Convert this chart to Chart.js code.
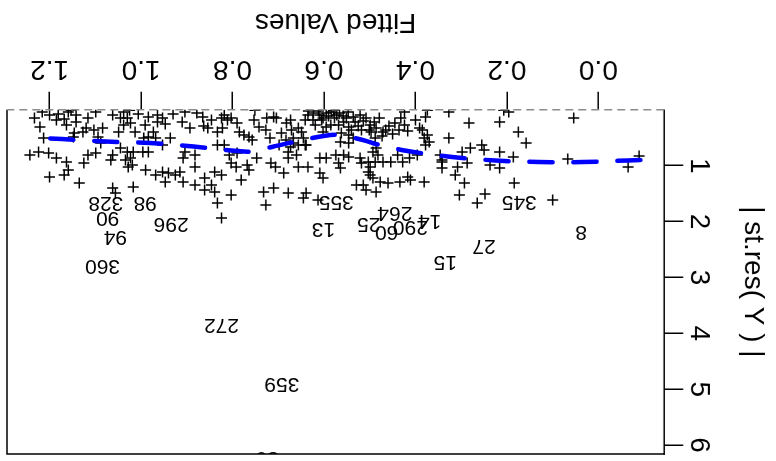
<!DOCTYPE html>
<html>
<head>
<meta charset="utf-8">
<script src="https://cdn.jsdelivr.net/npm/chart.js@4"></script>
<style>
  html, body { margin: 0; padding: 0; background: #fff; }
  /* the reference is a plot turned upside down */
  #wrap { width: 776px; height: 461px; transform: rotate(180deg); }
</style>
</head>
<body>
<div id="wrap"><canvas id="residChart" width="776" height="461"></canvas></div>
<script>
const fittedVals = [
  1.200, 1.185, 1.159, 1.142, 1.142, 1.116, 1.099, 1.062, 1.221, 1.163,
  1.120, 1.103, 1.084, 1.127, 1.213, 1.148, 1.146, 1.094, 1.088, 1.243,
  1.224, 1.202, 1.185, 1.163, 1.125, 1.116, 1.099, 1.062, 1.066, 1.159,
  1.200, 1.168, 1.135, 1.062, 1.056, 1.045, 1.030, 1.038, 1.023, 1.049,
  1.013, 0.984, 0.964, 0.964, 0.953, 0.910, 0.904, 0.893, 0.865, 0.846,
  0.824, 0.818, 0.854, 0.833, 0.822, 0.984, 0.973, 0.968, 0.994, 0.936,
  0.953, 1.045, 1.030, 1.017, 0.996, 0.984, 1.023, 1.034, 0.904, 0.882,
  0.908, 0.833, 0.818, 1.028, 1.019, 0.990, 0.968, 0.953, 0.940, 0.925,
  0.915, 0.947, 0.908, 0.882, 0.861, 0.839, 0.824, 0.882, 0.846, 0.861,
  0.839, 0.833, 1.017, 0.824, 0.811, 0.803, 0.790, 0.785, 0.775, 0.764,
  0.757, 0.753, 0.725, 0.710, 0.704, 0.727, 0.693, 0.682, 0.673, 0.671,
  0.667, 0.656, 0.641, 0.635, 0.624, 0.609, 0.602, 0.595, 0.585, 0.619,
  0.639, 0.602, 0.595, 0.807, 0.790, 0.803, 0.792, 0.768, 0.764, 0.747,
  0.716, 0.706, 0.688, 0.678, 0.678, 0.660, 0.656, 0.635, 0.609, 0.595,
  0.609, 0.602, 0.781, 0.803, 0.732, 0.710, 0.678, 0.645, 0.639, 0.613,
  0.727, 0.673, 0.667, 0.656, 0.645, 0.641, 0.572, 0.568, 0.557, 0.551,
  0.546, 0.562, 0.546, 0.536, 0.564, 0.546, 0.521, 0.508, 0.499, 0.497,
  0.488, 0.518, 0.486, 0.471, 0.465, 0.445, 0.424, 0.424, 0.400, 0.391,
  0.378, 0.374, 0.370, 0.385, 0.381, 0.378, 0.574, 0.568, 0.557, 0.564,
  0.546, 0.521, 0.518, 0.503, 0.499, 0.493, 0.486, 0.482, 0.488, 0.471,
  0.454, 0.439, 0.428, 0.413, 0.396, 0.503, 0.499, 0.493, 0.529, 0.514,
  0.508, 0.486, 0.477, 0.460, 0.434, 0.417, 0.411, 0.381, 0.342, 0.346,
  0.342, 0.327, 0.283, 0.216, 0.196, 0.175, 0.158, 0.327, 0.298, 0.280,
  0.255, 0.250, 0.216, 0.186, 0.342, 0.308, 0.287, 0.237, 0.216, 0.313,
  0.293, 0.184, 0.304, 0.265, 0.248, 0.100, 0.054, 0.067, -0.089, -0.065,
  1.153, 1.025, 0.751, 0.579, 0.374, 0.207, 0.634, 0.623, 0.612, 0.605,
  0.590, 0.584, 0.577, 0.566, 0.558, 0.547, 0.536, 0.532, 0.525, 0.540,
  0.514, 0.501, 0.490, 0.479, 0.473, 0.458, 0.450, 0.436, 0.432, 0.417,
  1.233, 1.216, 1.181, 1.168, 1.038, 1.006, 0.991, 0.947, 0.930, 0.878,
  0.863, 0.742, 0.718, 0.698, 0.683, 0.649
];
const absStdRes = [
  0.093, 0.183, 0.039, 0.093, 0.218, 0.147, 0.039, 0.093, 0.308, 0.272,
  0.326, 0.362, 0.326, 0.397, 0.505, 0.487, 0.415, 0.487, 0.594, 0.809,
  0.755, 0.773, 0.863, 0.934, 0.952, 0.809, 0.773, 0.809, 0.899, 1.078,
  1.203, 1.167, 1.310, 1.400, 1.489, 0.147, 0.147, 0.272, 0.236, 0.397,
  0.397, 0.129, 0.093, 0.218, 0.147, 0.218, 0.039, 0.326, 0.129, 0.183,
  0.147, 0.093, 0.326, 0.397, 0.326, 0.487, 0.397, 0.505, 0.505, 0.505,
  0.630, 0.684, 0.755, 0.755, 0.755, 0.755, 0.863, 0.899, 0.755, 0.809,
  0.863, 0.630, 0.630, 1.024, 0.988, 1.078, 1.167, 1.113, 1.131, 1.167,
  1.113, 1.292, 1.292, 1.024, 1.221, 1.113, 1.167, 1.346, 1.346, 1.436,
  1.471, 1.668, 1.382, 1.937, 0.183, 0.147, 0.236, 0.397, 0.451, 0.487,
  0.541, 0.183, 0.147, 0.129, 0.147, 0.362, 0.415, 0.236, 0.183, 0.362,
  0.505, 0.326, 0.183, 0.093, 0.183, 0.093, 0.147, 0.057, 0.272, 0.272,
  0.630, 0.397, 0.308, 0.809, 0.773, 0.952, 1.024, 0.988, 1.078, 0.863,
  0.952, 1.024, 1.131, 0.755, 0.863, 0.809, 1.024, 1.024, 0.863, 0.863,
  1.131, 1.221, 1.257, 1.525, 1.471, 1.400, 1.489, 1.579, 1.489, 1.615,
  1.704, 0.666, 0.594, 0.630, 0.505, 0.630, 0.093, 0.272, 0.218, 0.147,
  0.308, 0.415, 0.451, 0.505, 0.576, 0.594, 0.093, 0.147, 0.272, 0.397,
  0.505, 0.362, 0.326, 0.397, 0.362, 0.236, 0.272, 0.039, 0.183, 0.326,
  0.129, 0.451, 0.576, 0.362, 0.505, 0.630, 0.809, 0.952, 0.809, 1.042,
  0.845, 0.863, 0.952, 0.934, 1.024, 0.755, 0.684, 0.809, 0.934, 0.934,
  0.934, 0.809, 0.934, 0.863, 0.809, 1.113, 1.167, 1.221, 1.346, 1.346,
  1.436, 1.471, 1.292, 1.310, 1.292, 1.203, 1.257, 1.292, 0.934, 0.809,
  1.042, 0.039, 0.236, 0.218, 0.039, 0.397, 0.594, 0.505, 0.755, 0.684,
  0.630, 0.720, 0.755, 0.845, 0.899, 1.024, 0.952, 0.988, 1.042, 1.167,
  1.310, 1.310, 1.525, 1.668, 1.507, 1.615, 0.147, 0.881, 0.827, 1.024,
  0.010, 0.010, 0.010, 0.010, 0.010, 0.010, 0.021, 0.057, 0.021, 0.182,
  0.111, 0.039, 0.147, 0.057, 0.111, 0.039, 0.129, 0.218, 0.290, 0.361,
  0.200, 0.361, 0.218, 0.147, 0.469, 0.290, 0.433, 0.361, 0.147, 0.379,
  0.147, 0.039, 0.075, 0.165, 0.039, 0.075, 0.272, 0.254, 0.075, 0.057,
  0.290, 0.308, 0.504, 0.630, 0.540, 0.397
];

// observation numbers printed instead of markers
const labelIds = ['360', '94', '90', '328', '98', '296', '355', '13', '25', '60',
                  '264', '290', '14', '15', '27', '345', '8', '272', '359', '30'];
const labelFit = [1.084, 1.056, 1.073, 1.077, 0.991, 0.934, 0.573, 0.601, 0.502, 0.463,
                  0.445, 0.411, 0.369, 0.335, 0.250, 0.173, 0.038, 0.824, 0.692, 0.724];
const labelRes = [2.794, 2.276, 1.936, 1.667, 1.667, 2.043, 1.649, 2.132, 2.043, 2.186,
                  1.846, 2.097, 1.990, 2.719, 2.437, 1.649, 2.186, 3.850, 4.905, 6.230];

// loess-type smooth
const smoothFit = [-0.092, -0.064, 0.034, 0.130, 0.225, 0.320, 0.417, 0.478, 0.515, 0.569,
                   0.601, 0.666, 0.724, 0.757, 0.790, 0.885, 0.980, 1.077, 1.173, 1.244];
const smoothRes = [0.898, 0.907, 0.934, 0.934, 0.907, 0.844, 0.737, 0.630, 0.540, 0.451,
                   0.469, 0.576, 0.683, 0.746, 0.737, 0.657, 0.594, 0.567, 0.524, 0.488];

const xTicks = [0, 0.2, 0.4, 0.6, 0.8, 1.0, 1.2];
const yTicks = [1, 2, 3, 4, 5, 6];

const FONT = '"Liberation Sans", Arial, sans-serif';

const extras = {
    id: 'extras',
    afterDraw(chart) {
        const { ctx, chartArea: a, scales: { x, y } } = chart;
        ctx.save();

        // box (bottom side is the dashed zero line)
        ctx.strokeStyle = '#000';
        ctx.lineWidth = 1.5;
        ctx.beginPath();
        ctx.moveTo(a.left, a.top);
        ctx.lineTo(a.right, a.top);
        ctx.lineTo(a.right, a.bottom);
        ctx.stroke();

        const y0 = y.getPixelForValue(0);
        ctx.strokeStyle = '#8c8c8c';
        ctx.setLineDash([8, 5]);
        ctx.beginPath();
        ctx.moveTo(a.left, y0);
        ctx.lineTo(a.right, y0);
        ctx.stroke();
        ctx.setLineDash([]);

        // y tick labels, parallel to the axis like R
        ctx.fillStyle = '#000';
        ctx.font = '28px ' + FONT;
        ctx.textAlign = 'center';
        ctx.textBaseline = 'middle';
        yTicks.forEach(v => {
            ctx.save();
            ctx.translate(76, y.getPixelForValue(v));
            ctx.rotate(-Math.PI / 2);
            ctx.fillText(String(v), 0, 1);
            ctx.restore();
        });

        // point labels, clipped to the plot region
        ctx.beginPath();
        ctx.rect(a.left, a.top, a.right - a.left, a.bottom - a.top);
        ctx.clip();
        ctx.font = '21px ' + FONT;
        labelIds.forEach((id, i) => {
            ctx.fillText(id, x.getPixelForValue(labelFit[i]), y.getPixelForValue(labelRes[i]));
        });
        ctx.restore();
    }
};

new Chart(document.getElementById('residChart'), {
    type: 'scatter',
    data: {
        datasets: [
            {
                label: 'smooth',
                data: smoothFit.map((v, i) => ({ x: v, y: smoothRes[i] })),
                showLine: true,
                borderColor: '#0000ff',
                borderWidth: 4.5,
                borderDash: [23, 21],
                borderCapStyle: 'round',
                tension: 0.4,
                pointRadius: 0,
                order: 0
            },
            {
                label: 'residuals',
                data: fittedVals.map((v, i) => ({ x: v, y: absStdRes[i] })),
                pointStyle: 'cross',
                pointRadius: 5.5,
                borderWidth: 1.5,
                borderColor: '#000',
                backgroundColor: '#000',
                order: 1
            }
        ]
    },
    options: {
        responsive: false,
        animation: false,
        events: [],
        layout: { padding: { top: 7, right: 0.5, left: 0, bottom: 0 } },
        plugins: { legend: { display: false }, tooltip: { enabled: false } },
        scales: {
            x: {
                type: 'linear',
                min: -0.144,
                max: 1.293,
                afterBuildTicks: s => { s.ticks = xTicks.map(v => ({ value: v })); },
                afterFit: s => { s.height = 109.8; },
                border: { display: false },
                grid: { drawOnChartArea: false, drawTicks: true, tickLength: 18, color: '#000', lineWidth: 1.5 },
                ticks: {
                    autoSkip: false,
                    maxRotation: 0,
                    padding: 6,
                    color: '#000',
                    font: { size: 28, family: FONT },
                    callback: v => Number(v).toFixed(1)
                },
                title: {
                    display: true,
                    text: 'Fitted Values',
                    color: '#000',
                    font: { size: 28, family: FONT },
                    padding: { top: 0, bottom: 5 }
                }
            },
            y: {
                type: 'linear',
                min: 0,
                max: 6.16,
                afterBuildTicks: s => { s.ticks = yTicks.map(v => ({ value: v })); },
                afterFit: s => { s.width = 111.7; },
                border: { display: true, color: '#000', width: 1.5 },
                grid: { drawOnChartArea: false, drawTicks: true, tickLength: 19, color: '#000', lineWidth: 1.5 },
                ticks: { display: false },
                title: {
                    display: true,
                    text: '| st.res( Y ) |',
                    color: '#000',
                    font: { size: 28, family: FONT },
                    padding: { top: 6, bottom: 0 }
                }
            }
        }
    },
    plugins: [extras]
});
</script>
</body>
</html>
